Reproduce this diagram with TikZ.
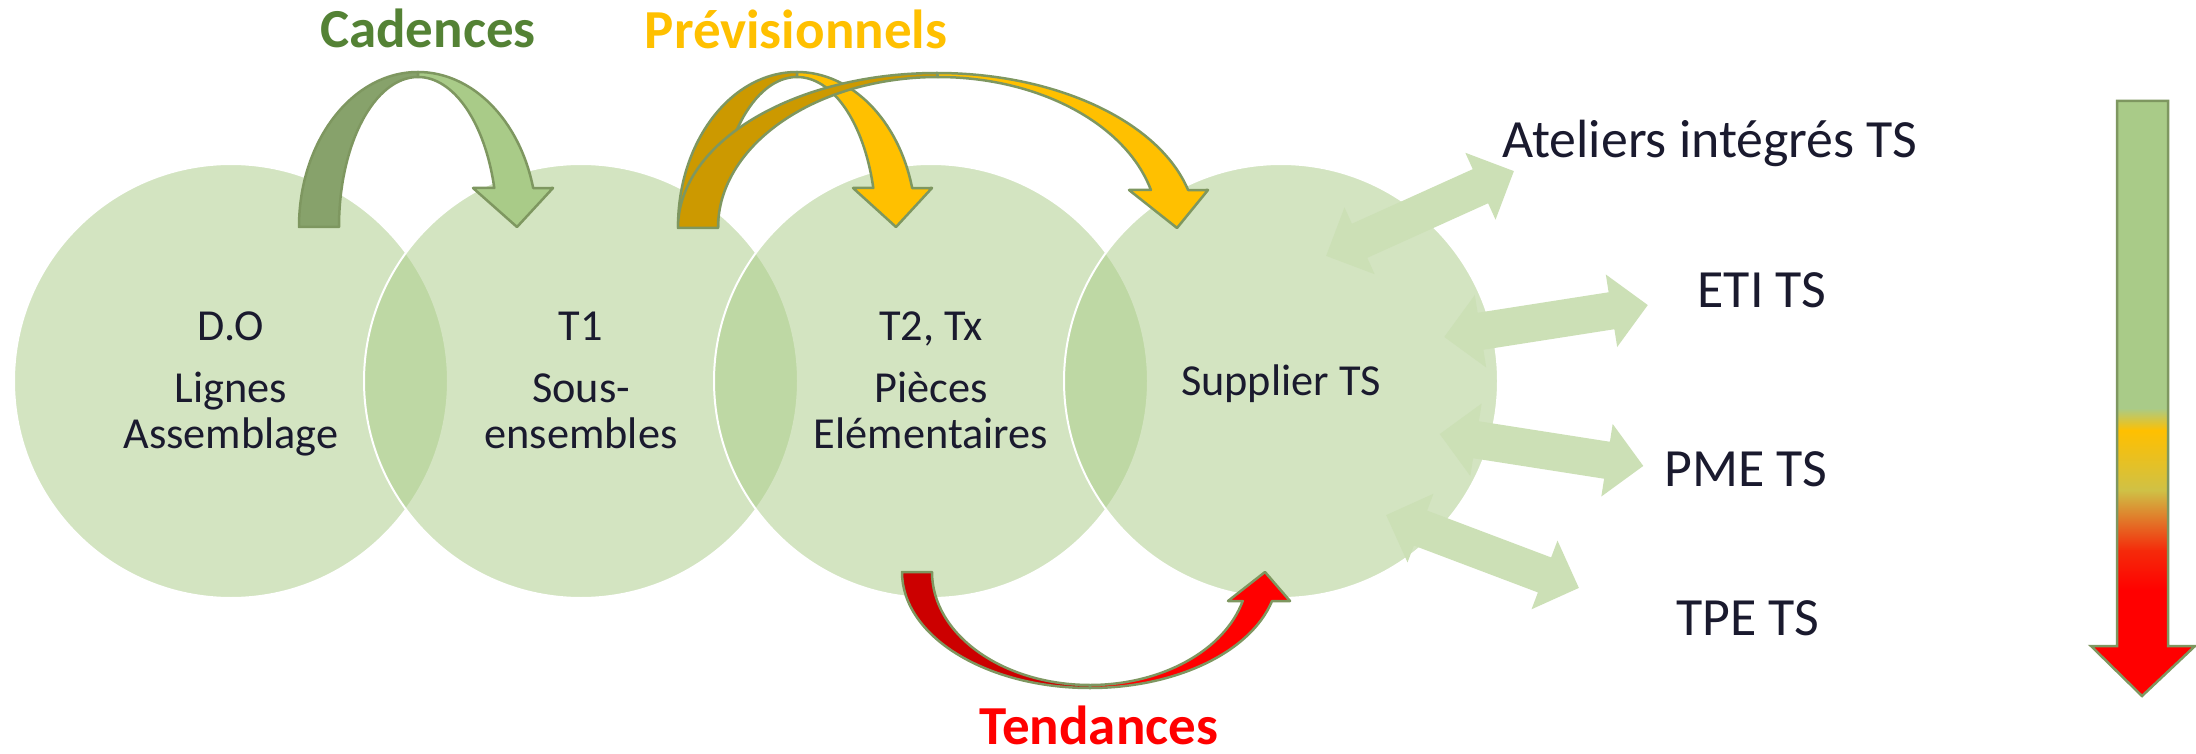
\documentclass[tikz,border=0pt]{standalone}
\usepackage{fontspec}
\setmainfont{Carlito}
\usetikzlibrary{shapes.arrows}

\definecolor{ink}{RGB}{26,26,46}
\definecolor{bubblefill}{RGB}{172,205,138}
\definecolor{linkfill}{RGB}{204,224,182}
\definecolor{arrline}{RGB}{126,151,96}
\definecolor{cadtxt}{RGB}{84,130,53}
\definecolor{cadback}{RGB}{135,162,107}
\definecolor{cadfront}{RGB}{169,203,136}
\definecolor{prevtxt}{RGB}{255,192,0}
\definecolor{prevback}{RGB}{204,153,0}
\definecolor{prevfront}{RGB}{255,192,0}
\definecolor{tendback}{RGB}{204,0,0}
\definecolor{tendfront}{RGB}{255,0,0}
\definecolor{gyellow}{RGB}{255,192,0}
\definecolor{golive}{RGB}{207,193,70}
\definecolor{gorange}{RGB}{245,42,10}

\begin{document}
\begin{tikzpicture}[x=1pt,y=-1pt,
  bubble/.style={circle, minimum size=434pt, inner sep=0pt, fill=bubblefill,
    fill opacity=0.52, draw=white, line width=2pt},
  txt/.style={inner sep=0pt, anchor=base, text=ink,
    font=\fontsize{44.3}{53}\selectfont},
  label/.style={inner sep=0pt, anchor=base, text=ink,
    font=\fontsize{53.8}{60}\selectfont},
  title/.style={inner sep=0pt, anchor=base,
    font=\bfseries\fontsize{55}{62}\selectfont},
  curvb/.style={draw=arrline, line width=2.5pt, line join=round},
  link/.style={double arrow, double arrow head extend=18pt,
    double arrow tip angle=90, inner xsep=0pt, inner ysep=18.5pt,
    minimum height=206pt, fill=linkfill, draw=none}]

\useasboundingbox (0,0) rectangle (2196,754);
\fill[white] (0,0) rectangle (2196,754);

% the four overlapping levels
\node[bubble] (c1) at (231,381) {};
\node[bubble] (c2) at (581,381) {};
\node[bubble] (c3) at (931,381) {};
\node[bubble] (c4) at (1281,381) {};

\node[txt] (c1a) at (231,340) {D.O};
\node[txt] (c1b) at (231,402) {Lignes};
\node[txt] (c1c) at (231,448) {Assemblage};
\node[txt] (c2a) at (581,340) {T1};
\node[txt] (c2b) at (581,402) {Sous-};
\node[txt] (c2c) at (581,448) {ensembles};
\node[txt] (c3a) at (931,340) {T2, Tx};
\node[txt] (c3b) at (931,402) {Pièces};
\node[txt] (c3c) at (931,448) {Elémentaires};
\node[txt] (c4a) at (1281,395) {Supplier TS};

% two-way links from the supplier level
\node[link, rotate=24.3] (l1) at (1420,213.5) {};
\node[link, rotate=8.9] (l2) at (1546,321) {};
\node[link, rotate=-8.9] (l3) at (1541.5,450) {};
\node[link, rotate=-20.7] (l4) at (1482.5,551.5) {};

\node[label] (ate) at (1710,158) {Ateliers intégrés TS};
\node[label] (eti) at (1762,307) {ETI TS};
\node[label] (pme) at (1746,486) {PME TS};
\node[label] (tpe) at (1748,635) {TPE TS};

% curved arrow: Cadences
\filldraw[curvb, fill=cadback] (299,227)
  arc[start angle=180,end angle=90,x radius=119pt,y radius=155pt]
  -- (418,77) arc[start angle=90,end angle=180,x radius=79pt,y radius=150pt]
  -- cycle;
\filldraw[curvb, fill=cadfront] (418,72)
  arc[start angle=90,end angle=14.57,x radius=119pt,y radius=155pt]
  -- (553,188) -- (517,227) -- (473,188) -- (494.3,188)
  arc[start angle=15.07,end angle=90,x radius=79pt,y radius=150pt]
  -- cycle;

% curved arrow: Prévisionnels, short
\filldraw[curvb, fill=prevback] (678,227)
  arc[start angle=180,end angle=90,x radius=119pt,y radius=155pt]
  -- (797,77) arc[start angle=90,end angle=180,x radius=79pt,y radius=150pt]
  -- cycle;
\filldraw[curvb, fill=prevfront] (797,72)
  arc[start angle=90,end angle=14.57,x radius=119pt,y radius=155pt]
  -- (932,188) -- (896,227) -- (853,188) -- (873.3,188)
  arc[start angle=15.07,end angle=90,x radius=79pt,y radius=150pt]
  -- cycle;

% curved arrow: Prévisionnels, long
\filldraw[curvb, fill=prevback] (678,228)
  arc[start angle=180,end angle=90,x radius=259pt,y radius=155pt]
  -- (938,77) arc[start angle=90,end angle=180,x radius=220pt,y radius=151pt]
  -- cycle;
\filldraw[curvb, fill=prevfront] (937,73)
  arc[start angle=90,end angle=14.19,x radius=259pt,y radius=155pt]
  -- (1208,190) -- (1177,228) -- (1129,190) -- (1150.9,190)
  arc[start angle=14.58,end angle=90,x radius=220pt,y radius=151pt]
  -- cycle;

% curved arrow: Tendances
\filldraw[curvb, fill=tendback] (902,572)
  arc[start angle=180,end angle=270,x radius=188pt,y radius=116pt]
  -- (1090,685) arc[start angle=270,end angle=180,x radius=158pt,y radius=113pt]
  -- cycle;
\filldraw[curvb, fill=tendfront] (1090,688)
  arc[start angle=270,end angle=345.52,x radius=188pt,y radius=116pt]
  -- (1290,601) -- (1265,572) -- (1228,601) -- (1242.7,601)
  arc[start angle=345.13,end angle=270,x radius=158pt,y radius=113pt]
  -- cycle;

\node[title, text=cadtxt] (cad) at (428,48) {Cadences};
\node[title, text=prevtxt] (prev) at (796,49) {Prévisionnels};
\node[title, text=tendfront] (tend) at (1099,744) {Tendances};

% graded scale arrow
\begin{scope}
  \clip (2117,101) -- (2168,101) -- (2168,646) -- (2195,646) -- (2142,696)
    -- (2091,646) -- (2117,646) -- cycle;
  \fill[cadfront] (2085,95) rectangle (2200,409);
  \shade[top color=cadfront, bottom color=gyellow] (2085,408) rectangle (2200,431);
  \shade[top color=gyellow, bottom color=golive] (2085,430) rectangle (2200,491);
  \shade[top color=golive, bottom color=gorange] (2085,490) rectangle (2200,551);
  \shade[top color=gorange, bottom color=tendfront] (2085,550) rectangle (2200,591);
  \fill[tendfront] (2085,590) rectangle (2200,700);
\end{scope}
\draw[arrline, line width=2.5pt, line join=miter] (2117,101) -- (2168,101)
  -- (2168,646) -- (2195,646) -- (2142,696) -- (2091,646) -- (2117,646) -- cycle;

\end{tikzpicture}
\end{document}
